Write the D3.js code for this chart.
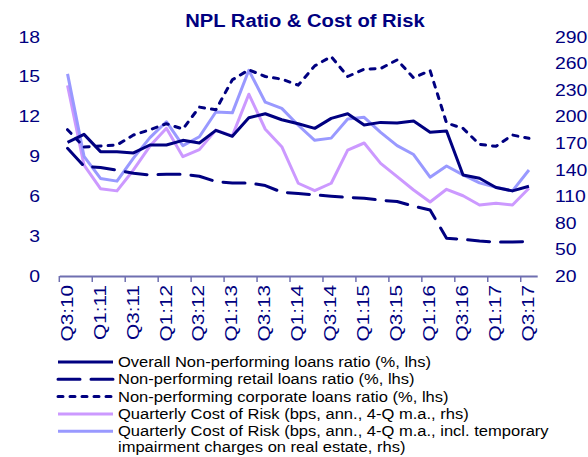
<!DOCTYPE html>
<html>
<head>
<meta charset="utf-8">
<script src="https://cdn.jsdelivr.net/npm/d3@7"></script>
<style>
  body { margin: 0; background: #fff; }
  svg text { font-family: "Liberation Sans", Arial, sans-serif; }
</style>
</head>
<body>
<div id="chart"></div>
<script>
// quarters, Q3:10 .. Q3:17
var quarters = ["Q3:10","Q4:10",
  "Q1:11","Q2:11","Q3:11","Q4:11",
  "Q1:12","Q2:12","Q3:12","Q4:12",
  "Q1:13","Q2:13","Q3:13","Q4:13",
  "Q1:14","Q2:14","Q3:14","Q4:14",
  "Q1:15","Q2:15","Q3:15","Q4:15",
  "Q1:16","Q2:16","Q3:16","Q4:16",
  "Q1:17","Q2:17","Q3:17"];

// lhs, %
var nplOverall = [10.05,10.65,9.35,9.35,9.25,9.85,9.85,10.2,10.0,10.95,10.5,11.9,12.2,11.75,11.45,11.1,11.85,12.2,11.35,11.55,11.5,11.65,10.8,10.9,7.6,7.35,6.65,6.4,6.75];
var nplRetail = [9.6,8.25,8.15,7.95,7.72,7.6,7.65,7.65,7.5,7.1,7.0,7.0,6.8,6.3,6.2,6.1,6.0,5.9,5.85,5.7,5.6,5.25,4.96,2.83,2.76,2.63,2.55,2.55,2.58];
var nplCorporate = [11.0,9.7,9.77,9.85,10.6,11.0,11.45,11.05,12.7,12.5,14.75,15.5,15.0,14.8,14.35,15.8,16.5,15.0,15.55,15.6,16.25,14.9,15.45,11.5,11.1,9.9,9.75,10.6,10.35];
// rhs, bps
var costOfRisk = [235,145,118.5,116,139.6,166.5,186.6,154.6,162.5,184.5,178,225,185.5,165.8,124.6,116.2,124.6,162,170,147,132,117,103.5,117.8,110.5,100,102,100,119];
var costOfRiskTemp = [248,155,130,127,153,176,194,167,177,205,204,252,216,209,190,173,175.5,197,199,182,167,157,131.5,144,134,125,120,116,139.5];

var leftTicks = [0,3,6,9,12,15,18];
var rightTicks = [20,50,80,110,140,170,200,230,260,290];
var xLabels = quarters.filter(function(d,i){ return i % 2 === 0; });

var legendItems = [
  {label:["Overall Non-performing loans ratio (%, lhs)"], color:"#000080", dash:null},
  {label:["Non-performing retail loans ratio (%, lhs)"], color:"#000080", dash:"22,11"},
  {label:["Non-performing corporate loans ratio (%, lhs)"], color:"#000080", dash:"5,7"},
  {label:["Quarterly Cost of Risk (bps, ann., 4-Q m.a., rhs)"], color:"#cc99ff", dash:null},
  {label:["Quarterly Cost of Risk (bps, ann., 4-Q m.a., incl. temporary","impairment charges on real estate, rhs)"], color:"#9999ff", dash:null}
];

var width = 588, height = 457;
var navy = "#000080";

var svg = d3.select("#chart").append("svg")
    .attr("width", width)
    .attr("height", height);

// widen text a bit, the source font runs wide
function stretch(sel, k) {
  sel.each(function(){
    var w = this.getComputedTextLength();
    d3.select(this).attr("textLength", w * k).attr("lengthAdjust", "spacingAndGlyphs");
  });
}

// scales
var xscale = d3.scaleBand().domain(quarters).range([59.3, 537.2]);
var bw = xscale.bandwidth();
var yLeft = d3.scaleLinear().domain([0, 18]).range([276, 36.6]);
var yRight = d3.scaleLinear().domain([20, 290]).range([276, 36.6]);

function cx(d, i){ return xscale(quarters[i]) + bw / 2; }

// title
svg.append("text")
    .attr("x", 305).attr("y", 27)
    .attr("text-anchor", "middle")
    .style("font-size", "18px").style("font-weight", "bold")
    .style("fill", navy)
    .text("NPL Ratio & Cost of Risk")
    .call(stretch, 1.12);

// x axis
var xAxis = d3.axisBottom(xscale)
    .tickValues(xLabels)
    .tickSize(6)
    .tickSizeOuter(0);

var gx = svg.append("g")
    .attr("class", "axis axis-x")
    .attr("transform", "translate(0,276)")
    .call(xAxis);
gx.select(".domain").attr("stroke", "#6f6fb0").attr("stroke-width", 2);
gx.selectAll(".tick line")
    .attr("stroke", "#6f6fb0").attr("stroke-width", 1.5)
    .attr("x1", -bw / 2).attr("x2", -bw / 2);
gx.selectAll(".tick text")
    .attr("transform", "rotate(-90)")
    .attr("x", -9).attr("y", -1)
    .attr("dy", "0.36em")
    .attr("text-anchor", "end")
    .style("font-size", "17px")
    .style("font-family", "'Liberation Sans', Arial, sans-serif")
    .style("fill", navy)
    .call(stretch, 1.22);

// left y labels
var yAxisL = d3.axisLeft(yLeft).tickValues(leftTicks).tickSize(0).tickPadding(0);
var gyl = svg.append("g")
    .attr("class", "axis axis--y")
    .attr("transform", "translate(40,0)")
    .call(yAxisL);
gyl.select(".domain").remove();
gyl.selectAll("text")
    .style("font-size", "17px")
    .style("font-family", "'Liberation Sans', Arial, sans-serif")
    .style("fill", navy)
    .call(stretch, 1.14);

// right y labels
var yAxisR = d3.axisRight(yRight).tickValues(rightTicks).tickSize(0).tickPadding(0);
var gyr = svg.append("g")
    .attr("class", "axis axis--y2")
    .attr("transform", "translate(555,0)")
    .call(yAxisR);
gyr.select(".domain").remove();
gyr.selectAll("text")
    .style("font-size", "17px")
    .style("font-family", "'Liberation Sans', Arial, sans-serif")
    .style("fill", navy)
    .call(stretch, 1.14);

// lines
var lineL = d3.line().x(cx).y(function(d){ return yLeft(d); });
var lineR = d3.line().x(cx).y(function(d){ return yRight(d); });

var series = [
  {data: costOfRisk, line: lineR, color: "#cc99ff", dash: null},
  {data: costOfRiskTemp, line: lineR, color: "#9999ff", dash: null},
  {data: nplCorporate, line: lineL, color: navy, dash: "5,7"},
  {data: nplRetail, line: lineL, color: navy, dash: "22,11"},
  {data: nplOverall, line: lineL, color: navy, dash: null}
];

svg.append("g").selectAll("path")
    .data(series)
    .enter()
    .append("path")
    .attr("d", function(d){ return d.line(d.data); })
    .attr("fill", "none")
    .attr("stroke", function(d){ return d.color; })
    .attr("stroke-width", 3)
    .attr("stroke-linejoin", "round")
    .attr("stroke-linecap", function(d){ return d.dash ? "round" : "butt"; })
    .attr("stroke-dasharray", function(d){ return d.dash; });

// legend
var lg = svg.append("g").attr("class", "legend");
var rowY = 362, rowStep = 17.3;
legendItems.forEach(function(item, i){
  var y = rowY + i * rowStep;
  lg.append("line")
      .attr("x1", 58).attr("x2", 113)
      .attr("y1", y).attr("y2", y)
      .attr("stroke", item.color)
      .attr("stroke-width", 3)
      .attr("stroke-linecap", item.dash ? "round" : "butt")
      .attr("stroke-dasharray", item.dash);
  var t = lg.append("text")
      .attr("y", y)
      .style("font-size", "14px")
      .style("fill", "#000");
  item.label.forEach(function(s, j){
    t.append("tspan")
        .attr("x", 118)
        .attr("dy", j === 0 ? "0.36em" : 16)
        .text(s)
        .call(stretch, 1.18);
  });
});
</script>
</body>
</html>
